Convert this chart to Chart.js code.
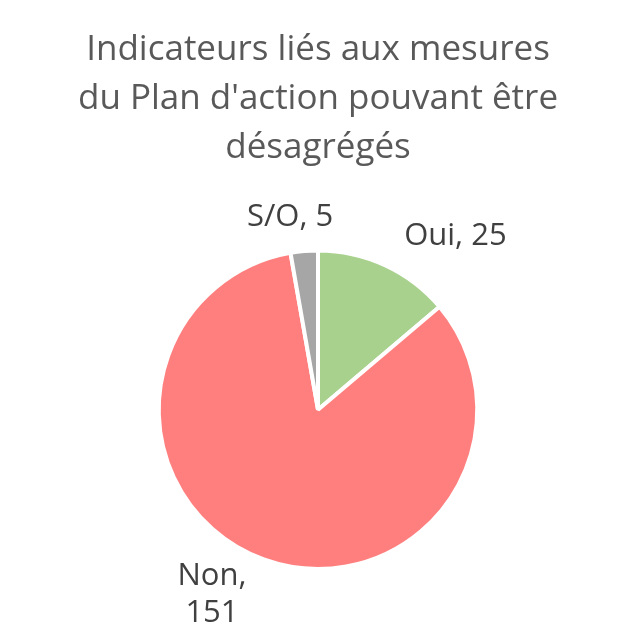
<!DOCTYPE html>
<html><head><meta charset="utf-8">
<script src="https://cdn.jsdelivr.net/npm/chart.js@4/dist/chart.umd.min.js"></script>
<style>html,body{margin:0;padding:0;background:#fff}#wrap{width:636px;height:639px}</style>
</head><body><div id="wrap"><canvas id="c"></canvas></div>
<script>
const categories = ['Oui', 'Non', 'S/O'];
const values = [25, 151, 5];
const colors = ['#A9D18E', '#FF7F7F', '#A6A6A6'];
const titleLines = ['Indicateurs liés aux mesures', "du Plan d'action pouvant être", 'désagrégés'];
const labelWrap = [false, true, false];
// label placement relative to each slice: angle shift (deg) and radius factor
const labelAngleShift = [13.5, 9.9, -3.3];
const labelRadiusFactor = [1.39, 1.34, 1.22];

const FONT = '"Open Sans", Lato, sans-serif';

const labelPlugin = {
  id: 'outLabels',
  afterDatasetsDraw(chart) {
    const ctx = chart.ctx;
    const meta = chart.getDatasetMeta(0);
    ctx.save();
    ctx.font = '31px ' + FONT;
    ctx.fillStyle = '#404040';
    ctx.textAlign = 'center';
    ctx.textBaseline = 'middle';
    meta.data.forEach((arc, i) => {
      const p = arc.getProps(['x', 'y', 'startAngle', 'endAngle', 'outerRadius'], true);
      const mid = (p.startAngle + p.endAngle) / 2 + labelAngleShift[i] * Math.PI / 180;
      const r = p.outerRadius * labelRadiusFactor[i];
      const cx = p.x + Math.cos(mid) * r;
      const cy = p.y + Math.sin(mid) * r;
      const lines = labelWrap[i] ? [categories[i] + ',', String(values[i])] : [categories[i] + ', ' + values[i]];
      const lh = 37;
      lines.forEach((t, k) => {
        ctx.fillText(t, cx, cy + (k - (lines.length - 1) / 2) * lh);
      });
    });
    ctx.restore();
  }
};

new Chart(document.getElementById('c'), {
  type: 'pie',
  data: {
    labels: categories,
    datasets: [{
      data: values,
      backgroundColor: colors,
      borderColor: '#ffffff',
      borderWidth: 4,
      hoverOffset: 0
    }]
  },
  options: {
    responsive: true,
    maintainAspectRatio: false,
    animation: false,
    layout: { padding: { top: 0, bottom: 68, left: 0, right: 0 } },
    plugins: {
      legend: { display: false },
      tooltip: { enabled: false },
      title: {
        display: true,
        text: titleLines,
        color: '#595959',
        font: { family: FONT, size: 35, weight: 'normal', lineHeight: 1.4 },
        padding: { top: 26, bottom: 75.5 }
      }
    }
  },
  plugins: [labelPlugin]
});
</script>
</body></html>
